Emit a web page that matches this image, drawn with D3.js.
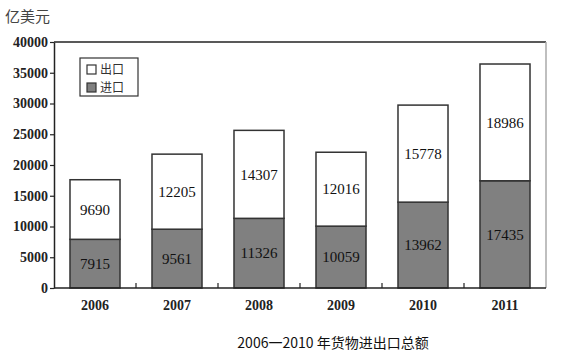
<!DOCTYPE html>
<html>
<head>
<meta charset="utf-8">
<script src="https://cdn.jsdelivr.net/npm/d3@7"></script>
<style>
  body { margin: 0; background: #fff; }
</style>
</head>
<body>
<div id="chart"></div>
<script>
const years = ["2006", "2007", "2008", "2009", "2010", "2011"];
const imports = [7915, 9561, 11326, 10059, 13962, 17435];
const exports = [9690, 12205, 14307, 12016, 15778, 18986];
const yTicks = [0, 5000, 10000, 15000, 20000, 25000, 30000, 35000, 40000];

const width = 566;
const height = 363;
const margin = { top: 42, right: 20, bottom: 75, left: 54 };

const serif = "'Liberation Serif', 'DejaVu Serif', serif";

const svg = d3.select("#chart")
    .append("svg")
    .attr("width", width)
    .attr("height", height);

const x = d3.scaleBand()
    .domain(years)
    .range([margin.left, width - margin.right])
    .paddingInner(0.39)
    .paddingOuter(0.195);

const y = d3.scaleLinear()
    .domain([0, 40000])
    .range([height - margin.bottom, margin.top]);

const rows = years.map((yr, i) => ({ year: yr, imp: imports[i], exp: exports[i] }));

// frame: top black, right grey
svg.append("line")
    .attr("x1", margin.left).attr("x2", width - margin.right)
    .attr("y1", y(40000)).attr("y2", y(40000))
    .attr("stroke", "#222").attr("stroke-width", 1.5);
svg.append("line")
    .attr("x1", width - margin.right).attr("x2", width - margin.right)
    .attr("y1", y(40000)).attr("y2", y(0))
    .attr("stroke", "#aaa").attr("stroke-width", 1.5);

// bars
const bars = svg.append("g");
bars.selectAll("rect.imp")
    .data(rows)
    .join("rect")
    .attr("class", "imp")
    .attr("x", d => x(d.year))
    .attr("width", x.bandwidth())
    .attr("y", d => y(d.imp))
    .attr("height", d => y(0) - y(d.imp))
    .attr("fill", "#808080")
    .attr("stroke", "#333")
    .attr("stroke-width", 1.5);

bars.selectAll("rect.exp")
    .data(rows)
    .join("rect")
    .attr("class", "exp")
    .attr("x", d => x(d.year))
    .attr("width", x.bandwidth())
    .attr("y", d => y(d.imp + d.exp))
    .attr("height", d => y(d.imp) - y(d.imp + d.exp))
    .attr("fill", "#fff")
    .attr("stroke", "#333")
    .attr("stroke-width", 1.5);

// value labels
const labels = svg.append("g")
    .attr("font-family", serif)
    .attr("font-size", 15)
    .attr("fill", "#111")
    .attr("text-anchor", "middle");
labels.selectAll("text.imp")
    .data(rows)
    .join("text")
    .attr("class", "imp")
    .attr("x", d => x(d.year) + x.bandwidth() / 2)
    .attr("y", d => (y(0) + y(d.imp)) / 2)
    .attr("dy", "0.35em")
    .text(d => d.imp);
labels.selectAll("text.exp")
    .data(rows)
    .join("text")
    .attr("class", "exp")
    .attr("x", d => x(d.year) + x.bandwidth() / 2)
    .attr("y", d => (y(d.imp) + y(d.imp + d.exp)) / 2)
    .attr("dy", "0.35em")
    .text(d => d.exp);

// y axis
const yAxis = svg.append("g")
    .attr("transform", `translate(${margin.left},0)`)
    .call(d3.axisLeft(y).tickValues(yTicks).tickSize(4).tickSizeOuter(0).tickFormat(d3.format("d")));
yAxis.select(".domain").attr("stroke", "#222").attr("stroke-width", 1.5);
yAxis.selectAll(".tick line").attr("stroke", "#222").attr("stroke-width", 1.2);
yAxis.selectAll(".tick text")
    .attr("font-family", serif)
    .attr("font-weight", "bold")
    .attr("font-size", 14)
    .attr("fill", "#222")
    .attr("x", -6);

// x axis: baseline with small upward ticks between categories
svg.append("line")
    .attr("x1", margin.left).attr("x2", width - margin.right)
    .attr("y1", y(0)).attr("y2", y(0))
    .attr("stroke", "#222").attr("stroke-width", 1.5);
const step = x.step();
svg.append("g")
    .selectAll("line")
    .data(years.slice(1))
    .join("line")
    .attr("x1", d => x(d) - step * x.paddingInner() / 2)
    .attr("x2", d => x(d) - step * x.paddingInner() / 2)
    .attr("y1", y(0)).attr("y2", y(0) - 5)
    .attr("stroke", "#222").attr("stroke-width", 1.2);

svg.append("g")
    .selectAll("text")
    .data(years)
    .join("text")
    .attr("x", d => x(d) + x.bandwidth() / 2)
    .attr("y", y(0) + 22)
    .attr("text-anchor", "middle")
    .attr("font-family", serif)
    .attr("font-weight", "bold")
    .attr("font-size", 14)
    .attr("fill", "#222")
    .text(d => d);

// unit label
svg.append("text")
    .attr("x", 5).attr("y", 22)
    .attr("font-family", "'Noto Sans CJK SC', sans-serif")
    .attr("font-size", 15)
    .attr("fill", "#444")
    .text("亿美元");

// legend
const lg = svg.append("g").attr("transform", "translate(80,58)");
lg.append("rect")
    .attr("width", 58).attr("height", 38)
    .attr("fill", "#fff").attr("stroke", "#333").attr("stroke-width", 1.2);
const legendItems = [{ name: "出口", fill: "#fff" }, { name: "进口", fill: "#808080" }];
legendItems.forEach((d, i) => {
    lg.append("rect")
        .attr("x", 7).attr("y", 7 + i * 18)
        .attr("width", 9).attr("height", 9)
        .attr("fill", d.fill).attr("stroke", "#333").attr("stroke-width", 1.2);
    lg.append("text")
        .attr("x", 20).attr("y", 16 + i * 18)
        .attr("font-family", "'Noto Sans CJK SC', serif")
        .attr("font-size", 12)
        .attr("fill", "#333")
        .text(d.name);
});

// caption
svg.append("text")
    .attr("x", 333).attr("y", 348)
    .attr("text-anchor", "middle")
    .attr("font-family", "'Noto Sans CJK SC', sans-serif")
    .attr("font-size", 14)
    .attr("fill", "#111")
    .text("2006一2010 年货物进出口总额");
</script>
</body>
</html>
